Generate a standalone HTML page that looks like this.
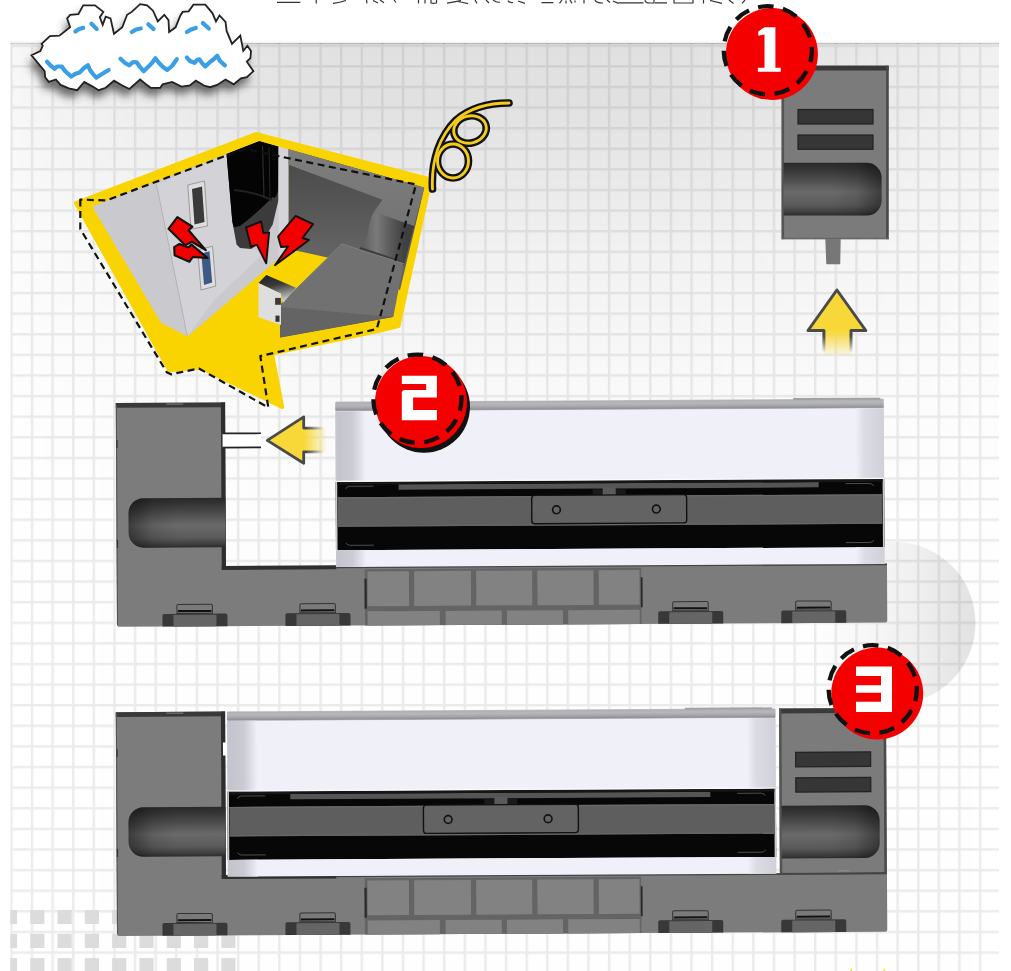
<!DOCTYPE html>
<html><head><meta charset="utf-8">
<style>
html,body{margin:0;padding:0;background:#fff;}
body{width:1011px;height:971px;overflow:hidden;font-family:"Liberation Sans",sans-serif;}
svg{display:block;position:absolute;left:0;top:0;}
</style></head>
<body>
<svg width="1011" height="971" viewBox="0 0 1011 971">
<defs>
 <pattern id="grid" patternUnits="userSpaceOnUse" x="10.2" y="44.5" width="20.61" height="20.61">
  <rect x="0" y="0" width="2.4" height="20.61" fill="#000" fill-opacity="0.075"/>
  <rect x="2.4" y="0" width="18.21" height="2.4" fill="#000" fill-opacity="0.075"/>
 </pattern>
 <linearGradient id="gV" x1="0" y1="0" x2="0" y2="1">
  <stop offset="0" stop-color="#000" stop-opacity="0.12"/>
  <stop offset="0.061" stop-color="#000" stop-opacity="0.118"/>
  <stop offset="0.148" stop-color="#000" stop-opacity="0.084"/>
  <stop offset="0.234" stop-color="#000" stop-opacity="0.05"/>
  <stop offset="0.32" stop-color="#000" stop-opacity="0.035"/>
  <stop offset="0.374" stop-color="#000" stop-opacity="0.022"/>
  <stop offset="0.492" stop-color="#000" stop-opacity="0.01"/>
  <stop offset="0.654" stop-color="#000" stop-opacity="0.004"/>
  <stop offset="1" stop-color="#000" stop-opacity="0.002"/>
 </linearGradient>
 <linearGradient id="gH" x1="0" y1="0" x2="1" y2="0">
  <stop offset="0" stop-color="#fff" stop-opacity="0.25"/>
  <stop offset="0.04" stop-color="#fff" stop-opacity="0.39"/>
  <stop offset="0.152" stop-color="#fff" stop-opacity="0.64"/>
  <stop offset="0.293" stop-color="#fff" stop-opacity="0.95"/>
  <stop offset="0.394" stop-color="#fff" stop-opacity="1"/>
  <stop offset="0.647" stop-color="#fff" stop-opacity="1"/>
  <stop offset="0.799" stop-color="#fff" stop-opacity="0.85"/>
  <stop offset="0.94" stop-color="#fff" stop-opacity="0.57"/>
  <stop offset="1" stop-color="#fff" stop-opacity="0.45"/>
 </linearGradient>
 <mask id="mH" maskUnits="userSpaceOnUse" x="0" y="0" width="1011" height="971">
  <rect x="10.2" y="42.6" width="988.8" height="928.4" fill="url(#gH)"/>
 </mask>
 <linearGradient id="sphere" x1="0" y1="0" x2="1" y2="0">
  <stop offset="0" stop-color="#000" stop-opacity="0"/>
  <stop offset="0.6" stop-color="#000" stop-opacity="0.052"/>
  <stop offset="0.9" stop-color="#000" stop-opacity="0.098"/>
  <stop offset="1" stop-color="#000" stop-opacity="0.11"/>
 </linearGradient>
 <linearGradient id="gripV" x1="0" y1="0" x2="0" y2="1">
  <stop offset="0" stop-color="#292929"/>
  <stop offset="0.1" stop-color="#323232"/>
  <stop offset="0.3" stop-color="#4a4a4a"/>
  <stop offset="0.55" stop-color="#6a6a6a"/>
  <stop offset="0.8" stop-color="#5a5a5a"/>
  <stop offset="0.93" stop-color="#404040"/>
  <stop offset="1" stop-color="#2c2c2c"/>
 </linearGradient>
 <linearGradient id="gripHL" x1="0" y1="0" x2="1" y2="0">
  <stop offset="0" stop-color="#000" stop-opacity="0.42"/>
  <stop offset="0.25" stop-color="#000" stop-opacity="0.1"/>
  <stop offset="0.5" stop-color="#000" stop-opacity="0"/>
  <stop offset="1" stop-color="#000" stop-opacity="0"/>
 </linearGradient>
 <linearGradient id="gripHR" x1="1" y1="0" x2="0" y2="0">
  <stop offset="0" stop-color="#000" stop-opacity="0.42"/>
  <stop offset="0.25" stop-color="#000" stop-opacity="0.1"/>
  <stop offset="0.5" stop-color="#000" stop-opacity="0"/>
  <stop offset="1" stop-color="#000" stop-opacity="0"/>
 </linearGradient>
 <linearGradient id="topedge" x1="0" y1="0" x2="0" y2="1">
  <stop offset="0" stop-color="#c4c4c8"/>
  <stop offset="0.12" stop-color="#b0b0b4"/>
  <stop offset="0.35" stop-color="#b6b6bc"/>
  <stop offset="0.6" stop-color="#a9a9ad"/>
  <stop offset="0.85" stop-color="#929296"/>
  <stop offset="1" stop-color="#c0c0c8"/>
 </linearGradient>
 <linearGradient id="devL" x1="0" y1="0" x2="1" y2="0">
  <stop offset="0" stop-color="#c8c8d0"/>
  <stop offset="0.08" stop-color="#c4c4cc"/>
  <stop offset="0.55" stop-color="#cbcbd3"/>
  <stop offset="0.85" stop-color="#e2e2ea"/>
  <stop offset="1" stop-color="#f0f0f8"/>
 </linearGradient>
 <linearGradient id="devR" x1="0" y1="0" x2="1" y2="0">
  <stop offset="0" stop-color="#f0f0f8"/>
  <stop offset="0.3" stop-color="#dcdce4"/>
  <stop offset="1" stop-color="#d0d0d8"/>
 </linearGradient>
 <linearGradient id="arrUp" x1="0" y1="0" x2="0" y2="1">
  <stop offset="0" stop-color="#f8d838"/>
  <stop offset="0.62" stop-color="#f8d838"/>
  <stop offset="1" stop-color="#f8d838" stop-opacity="0.05"/>
 </linearGradient>
 <linearGradient id="arrLeft" x1="1" y1="0" x2="0" y2="0">
  <stop offset="0" stop-color="#f7d23a" stop-opacity="0"/>
  <stop offset="0.45" stop-color="#f7d23a"/>
  <stop offset="1" stop-color="#f7d23a"/>
 </linearGradient>
 <linearGradient id="arrUpS" gradientUnits="userSpaceOnUse" x1="0" y1="289" x2="0" y2="356">
  <stop offset="0" stop-color="#4a4a4a"/><stop offset="0.7" stop-color="#4a4a4a"/><stop offset="0.95" stop-color="#4a4a4a" stop-opacity="0"/>
 </linearGradient>
 <linearGradient id="arrLeftF" gradientUnits="userSpaceOnUse" x1="267" y1="0" x2="328" y2="0">
  <stop offset="0" stop-color="#f8d838"/><stop offset="0.6" stop-color="#f8d838"/><stop offset="1" stop-color="#f8d838" stop-opacity="0"/>
 </linearGradient>
 <linearGradient id="arrLeftS" gradientUnits="userSpaceOnUse" x1="267" y1="0" x2="330" y2="0">
  <stop offset="0" stop-color="#4a4a4a"/><stop offset="0.62" stop-color="#4a4a4a"/><stop offset="0.9" stop-color="#4a4a4a" stop-opacity="0"/>
 </linearGradient>
 <filter id="cloudsh" x="-20%" y="-20%" width="140%" height="160%">
  <feGaussianBlur stdDeviation="4.5"/>
 </filter>
 <clipPath id="adclip"><rect x="770" y="700" width="130" height="176.5"/></clipPath>
 <clipPath id="panelclip"><rect x="10.2" y="42.6" width="988.8" height="928.4"/></clipPath>
</defs>

<!-- background panel -->
<rect x="10.2" y="40.6" width="988.8" height="2" fill="#000" fill-opacity="0.025"/>
<g clip-path="url(#panelclip)">
 <rect x="10.2" y="43" width="988.8" height="928" fill="#ffffff"/>
 <rect x="10.2" y="42.6" width="988.8" height="928.4" fill="url(#gV)" mask="url(#mH)"/>
 <rect x="10.2" y="43" width="988.8" height="928" fill="url(#grid)"/>
 <rect x="10.2" y="42.6" width="988.8" height="1.5" fill="#000" fill-opacity="0.16"/>
</g>

<!-- top text remnants -->
<path d="M277,2.3 H300.3 M316.2,0 V3.4 M333,3.3 Q340,2.5 346,0.5 M366.5,0 L367,3.4 M373,0.5 L378,3 M380,0 L384,2.8 M394,0 L396,2.5 M418.5,0 V3.4 M425,0 V3.4 M431,0 V3 Q433,3.6 436.5,3 V0 M447,3.2 Q455,2 461,0.5 M458,1.5 Q463,2.5 468,3.6 M475,0 L477,3.4 M486,0 L489,3 M493,0 Q497,3 500,2 M508,0.5 Q509,3 513,2.5 M518,1 L525,3.4 M541.5,2.6 H553.4 M559.5,3.3 L562,0 M566,0.5 V3.4 M570,0 L572,3.4 M575,0.5 V2.5 M584,0 V3.4 M595,0 Q596,3 603,3 M607,0 L610,2.5 M613,1 L618.5,3.4 M618.6,2.8 H643.5 M645,0 Q645,3 650,3 H654 V0 M655,2.8 H667 M674,0 V3 H693 V0 M703.5,0 V3.4 M710,0.5 L722,3.4 M729,0 L733.5,3.4 M745,0 L742,3.4" fill="none" stroke="#333" stroke-width="1.2"/>

<!-- bottom-left squares -->
<g fill="#dcdcdc" clip-path="url(#panelclip)">
 <g id="sqrow">
  <rect x="2.9" y="909.9" width="14.2" height="14.2"/><rect x="30.2" y="909.9" width="14.2" height="14.2"/><rect x="57.5" y="909.9" width="14.2" height="14.2"/><rect x="84.8" y="909.9" width="14.2" height="14.2"/><rect x="112.1" y="909.9" width="14.2" height="14.2"/><rect x="139.4" y="909.9" width="14.2" height="14.2"/><rect x="166.7" y="909.9" width="14.2" height="14.2"/><rect x="194" y="909.9" width="14.2" height="14.2"/><rect x="221.3" y="909.9" width="14.2" height="14.2"/>
 </g>
 <use href="#sqrow" y="23.9"/>
 <use href="#sqrow" y="48.2"/>
</g>
<!-- sparkles -->
<path d="M850,971 L851.2,968 L852.4,971 Z M883,971 L884.2,968 L885.4,971 Z" fill="#f3d400" fill-opacity="0.8"/>

<!-- semicircle shade -->
<circle cx="894.5" cy="623" r="81" fill="url(#sphere)"/>

<!-- ===== assembly defs ===== -->
<defs>
 <g id="foot">
  <path d="M0,22 V11.2 Q0,9.4 1.8,9.4 H63.2 Q65,9.4 65,11.2 V22 Z" fill="#383838"/>
  <rect x="11" y="10.4" width="43" height="11.6" fill="#656565"/>
  <path d="M14.5,8.9 V1.5 Q14.5,0 16,0 H48.5 Q50,0 50,1.5 V8.9 Z" fill="#7a7a7a" stroke="#333" stroke-width="1"/>
  <rect x="15.5" y="5.6" width="33.5" height="2" fill="#111"/>
 </g>
 <g id="asm">
  <path d="M117,403.1 H226.3 V568 H887.3 V624.8 Q887.3,626.8 885.3,626.8 H119 Q117,626.8 117,624.8 Z" fill="#7c7c7c"/>
  <rect x="117" y="403.1" width="109.3" height="4.7" fill="#393939"/>
  <rect x="167.5" y="403.6" width="17" height="1.6" fill="#666"/>
  <rect x="222.1" y="403.1" width="4.2" height="167.4" fill="#2e2e2e"/>
  <rect x="222.1" y="566.5" width="114.5" height="4" fill="#2e2e2e"/>
  <rect x="336" y="567.6" width="551.3" height="1.8" fill="#454545"/>
  <rect x="117" y="405" width="1.1" height="220" fill="#555"/>
  <rect x="117.3" y="440" width="1.3" height="8" fill="#333"/>
  <rect x="117.3" y="540" width="1.3" height="8" fill="#333"/>
  <path d="M226,498.3 H144.1 A15,15 0 0 0 129.1,513.3 V532.8 A15,15 0 0 0 144.1,547.8 H226 Z" fill="url(#gripV)"/>
  <path d="M226,498.3 H144.1 A15,15 0 0 0 129.1,513.3 V532.8 A15,15 0 0 0 144.1,547.8 H226 Z" fill="url(#gripHL)"/>
  <!-- bricks -->
  <rect x="365" y="570.5" width="276.5" height="56.3" fill="#646464"/>
  <g fill="#828282">
   <rect x="367.8" y="572.8" width="41.4" height="34.7"/>
   <rect x="414.4" y="572.8" width="56.8" height="34.7"/>
   <rect x="476.4" y="572.8" width="56" height="34.7"/>
   <rect x="537.6" y="572.8" width="56.2" height="34.7"/>
   <rect x="599" y="572.8" width="40.8" height="34.7"/>
   <rect x="367.8" y="612.7" width="72.1" height="14.1"/>
   <rect x="445.7" y="612.7" width="56.1" height="14.1"/>
   <rect x="507" y="612.7" width="56.1" height="14.1"/>
   <rect x="568.3" y="612.7" width="71.5" height="14.1"/>
  </g>
  <rect x="364.7" y="580" width="2.2" height="30" fill="#2a2a2a"/>
  <rect x="641" y="580" width="1.8" height="30" fill="#2a2a2a"/>
  <use href="#foot" x="162.5" y="604.8"/>
  <use href="#foot" x="285.5" y="604.8"/>
  <use href="#foot" x="658.3" y="604.8"/>
  <use href="#foot" x="781.3" y="604.8"/>
 </g>
 <g id="dev">
  <rect x="0" y="-0.3" width="548.6" height="10" rx="1.5" fill="url(#topedge)"/>
  <rect x="458" y="-1.3" width="87" height="2" fill="#a2a2a4"/>
  <rect x="0" y="9.4" width="548.6" height="70.6" fill="#f0f0f8"/>
  <rect x="0" y="9.4" width="30" height="70.6" fill="url(#devL)"/>
  <rect x="520" y="9.4" width="28.6" height="70.6" fill="url(#devR)"/>
  <rect x="0" y="80" width="548.6" height="68.3" fill="#070707"/>
  <rect x="0" y="80" width="1.6" height="68.3" fill="#c8c8d0"/>
  <rect x="547" y="80" width="1.6" height="68.3" fill="#c8c8d0"/>
  <rect x="63" y="82.8" width="420" height="5.3" fill="#555"/>
  <rect x="1.6" y="80" width="545.4" height="2.8" fill="#161616"/>
  <rect x="0" y="78.8" width="548.6" height="1.2" fill="#fbfbfe"/>
  <rect x="2" y="95.3" width="544.5" height="29.6" fill="#5e5e5e"/>
  <rect x="2" y="95.3" width="544.5" height="1.2" fill="#6a6a6a"/>
  <rect x="2" y="123.6" width="544.5" height="1.3" fill="#666"/>
  <path d="M10,87 Q11,84.5 14,84.5 H38 M10,141 Q11,143.5 14,143.5 H38 M538,87 Q537,84.5 534,84.5 H510 M538,141 Q537,143.5 534,143.5 H510" fill="none" stroke="#555" stroke-width="0.9"/>
  <rect x="257" y="89" width="33" height="6.5" fill="#1a1a1a"/>
  <rect x="267" y="86.8" width="13" height="8.5" fill="#5a5a5a"/>
  <rect x="196" y="94.6" width="154.9" height="28.3" rx="3" fill="#636363" stroke="#111" stroke-width="1.4"/>
  <circle cx="220.7" cy="109.1" r="3.9" fill="none" stroke="#111" stroke-width="1.6"/>
  <circle cx="320.6" cy="108.9" r="3.9" fill="none" stroke="#111" stroke-width="1.6"/>
  <rect x="0" y="148.3" width="548.6" height="16.7" fill="#f0f0f8"/>
  <rect x="0" y="148.3" width="30" height="16.7" fill="url(#devL)"/>
  <rect x="520" y="148.3" width="28.6" height="16.7" fill="url(#devR)"/>
 </g>
 <g id="adapter">
  <rect x="0" y="0" width="107" height="173.5" fill="#7b7b7b"/>
  <rect x="0" y="0" width="107" height="4.8" fill="#3a3a3a"/>
  <rect x="0" y="0" width="2.5" height="173.5" fill="#555"/>
  <rect x="104.5" y="0" width="2.5" height="173.5" fill="#4a4a4a"/>
  <rect x="16.4" y="43.8" width="75" height="14.5" fill="#363636" stroke="#222" stroke-width="1.2"/>
  <rect x="16.4" y="69.3" width="75" height="14.3" fill="#363636" stroke="#222" stroke-width="1.2"/>
  <rect x="0" y="172" width="107" height="1.5" fill="#666"/>
  <path d="M2,97.1 H85 A15,15 0 0 1 100,112.1 V134.9 A15,15 0 0 1 85,149.9 H2 Z" fill="url(#gripV)"/>
  <path d="M2,97.1 H85 A15,15 0 0 1 100,112.1 V134.9 A15,15 0 0 1 85,149.9 H2 Z" fill="url(#gripHR)"/>
 </g>
</defs>

<!-- middle assembly -->
<g transform="rotate(-0.3125 116.9 626.8)">
 <use href="#asm"/>
 <use href="#dev" x="336.4" y="403.1"/>
 <rect x="223.6" y="434" width="38.4" height="14" fill="#fff"/>
 <rect x="223.6" y="433.2" width="38.4" height="1.7" fill="#222"/>
 <rect x="223.6" y="447.3" width="38.4" height="1.7" fill="#222"/>
</g>

<!-- bottom assembly -->
<g transform="rotate(-0.3125 116.9 935.9)">
 <use href="#asm" y="309.1"/>
 <use href="#dev" x="228.1" y="712.2"/>
 <rect x="224" y="743" width="4" height="13" fill="#fff"/>
 <g clip-path="url(#adclip)"><use href="#adapter" x="780.2" y="712.2"/></g>
 <rect x="780.2" y="876.3" width="107" height="1.8" fill="#454545"/>
 <rect x="838" y="874" width="12" height="1.2" fill="#8a8a8a"/>
</g>

<!-- top adapter -->
<use href="#adapter" x="781.6" y="65.7"/>
<path d="M825.3,239 H840.7 L840.2,264.3 H826.3 Z" fill="#777"/>


<!-- cloud -->
<defs>
 <path id="cloudp" d="M31.5,55.2 L40.4,51 L42.8,45.7 L41.6,43.9 L49.9,36.2 L59.4,35.6 L70.1,27.3 L67.1,18.4 L70.1,14.8 L78.4,14.2 L83.2,5.3 L95,5.3 L103.3,11.9 L99.8,17.2 L102.7,24.9 L105.7,16.6 L110.5,18.4 L114,33.8 L122.3,27.3 L127.1,14.8 L131.8,11.9 L140.1,4.2 L147.1,5.3 L153,10.7 L157.8,21.4 L164.3,14.8 L168.5,20.2 L169.1,32 L175.6,27.3 L180.4,15.4 L182.7,11.9 L188.7,11.3 L193.4,4.7 L205.3,4.7 L212.4,13.1 L216,21.4 L219.5,15.4 L225.5,22 L226.6,30.9 L232,43.9 L240.3,35.6 L243.3,51 L247.4,45.7 L251,51 L250.4,58.2 L246.8,61.7 L253.4,71.2 L246.8,77.2 L240.9,78.3 L233.8,84.3 L225.5,79.5 L217.2,84.9 L210,87.2 L204.1,85.5 L195.8,80.7 L189.9,85.5 L181.5,86.6 L172,81.9 L162.6,84.3 L160.2,87.8 L150.7,87.8 L145.9,84.3 L140.1,79.5 L129.4,89 L122.3,85.5 L114,80.7 L105.7,87.8 L98.6,90.2 L92.7,86.6 L84.3,81.9 L77.2,90.2 L68.9,88.4 L60.6,84.9 L55.9,79.5 L48.7,81.9 L45.2,77.2 L44.6,71.2 Z"/>
</defs>
<use href="#cloudp" transform="translate(-3 8)" fill="#333" fill-opacity="0.7" filter="url(#cloudsh)"/>
<use href="#cloudp" fill="#fff" stroke="#222" stroke-width="1.8" stroke-linejoin="miter"/>
<g fill="none" stroke="#3a9fe4" stroke-width="4.2" stroke-linecap="round" stroke-linejoin="round">
 <path d="M75.4,31.5 L79,29 L83.2,27.9"/><path d="M91.5,23.7 L96.8,29.1"/>
 <path d="M131.8,32 L136,29.5 L140.7,28.5"/><path d="M148.3,24.3 L153.6,29.1"/>
 <path d="M186.9,32 L191,29.5 L195.8,27.9"/><path d="M202.9,23.1 L208.8,28.5"/>
 <path d="M47,61.7 L50,65 L54.7,68.8 L57,66.5 L61.8,66.5 L65,71 L71.3,76.6 L75,74 L79.6,72.4 L84,68 L87.9,65.3 L90,70 L93,74 L96.2,77.7 L102,74 L108.7,70"/>
 <path d="M120.5,58.8 L125,63 L129.4,65.3 L133,62 L136.6,62.3 L140,67 L143.6,71.2 L149,66 L152,63 L155.4,58.2 L159,63 L163,67 L167.3,70 L172,66 L176.8,59.3"/>
 <path d="M186.9,57.6 L190,61 L194.6,62.9 L197,60 L199.3,59.3 L202,63 L205.3,66.5 L210,62 L214,59 L217.2,55.8 L220,61 L224.9,65.3"/>
</g>

<!-- ===== bubble ===== -->
<defs>
 <clipPath id="photoclip">
  <path d="M92,206.5 L259.3,141 L424.5,187.5 L395.3,317.1 L280,337.7 L187.4,336.5 L161,323 Z"/>
 </clipPath>
 <linearGradient id="recess" x1="0" y1="0" x2="1" y2="0">
  <stop offset="0" stop-color="#5a5a5a"/><stop offset="0.3" stop-color="#7a7a7a"/><stop offset="0.55" stop-color="#5c5c5c"/><stop offset="0.8" stop-color="#424242"/><stop offset="1" stop-color="#3a3a3a"/>
 </linearGradient>
 <linearGradient id="usbtop" x1="0" y1="0" x2="0.3" y2="1">
  <stop offset="0" stop-color="#1e1e1e"/><stop offset="0.45" stop-color="#3a3a3a"/><stop offset="1" stop-color="#c8c8c8"/>
 </linearGradient>
 <linearGradient id="wallg" gradientUnits="userSpaceOnUse" x1="0" y1="165" x2="0" y2="250">
  <stop offset="0" stop-color="#4c4c4c"/><stop offset="0.45" stop-color="#555"/><stop offset="1" stop-color="#636363"/>
 </linearGradient>
 <linearGradient id="ceil" x1="0" y1="0" x2="0" y2="1">
  <stop offset="0" stop-color="#7e7e7e"/><stop offset="1" stop-color="#747474"/>
 </linearGradient>
</defs>
<path d="M76,203 L255.8,134 L430.5,179.5 L398.5,326 L380,330.5 L272,353.5 L282.2,407 L200.4,367.5 L169.3,370.2 Z" fill="#fad400" stroke="#fad400" stroke-width="4" stroke-linejoin="round"/>
<g clip-path="url(#photoclip)">
 <!-- left wall -->
 <path d="M92,206.5 L259.3,141 L288.6,149 L288.6,250 L283,255 L187.4,336.5 L161,323 Z" fill="#cacace"/>
 <!-- panel -->
 <path d="M156.5,184.5 L226.5,155 L232.3,221.5 L236.6,244.6 L251,249 L265,252 L214,300 L187.4,336.5 L178,290 Z" fill="#d3d3d7"/>
 <path d="M156.5,184.5 L178,290 L187.4,336.5" fill="none" stroke="#b2b2b8" stroke-width="1"/>
 <!-- black opening -->
 <path d="M226.5,153.8 L259.3,141 L278.5,146.5 L278.5,199.9 L272.7,224.4 L262.6,241.7 L251,249 L240,248 L236.6,244.6 L232.3,221.5 Z" fill="#3b3b3b"/>
 <path d="M226.5,153.8 L259.3,141 L278.5,146.5 L278,190 Q276,200 272.7,197 Q255,215 240,226 L233.8,227.3 L232.3,221.5 Z" fill="#040404"/>
 <path d="M234,190 Q255,192 272,200" stroke="#222" stroke-width="2" fill="none"/>
 <path d="M262.5,146 L264,197" stroke="#2c2c2c" stroke-width="1.2"/>
 <path d="M269,147 L270,200" stroke="#262626" stroke-width="1"/>
 <!-- light strip -->
 <path d="M278.5,146.5 L288.6,149 L288.6,250 L283,255 L278.5,256 Z" fill="#d5d5d9"/>
 <!-- right wall -->
 <path d="M288.6,148.2 L424.5,187.4 L400,290 L345,262 L327.4,257.4 L288.6,249 Z" fill="url(#wallg)"/>
 <path d="M288.6,148.2 L424.5,187.4 L414,226 L373.8,212 L382.5,199.8 L288.6,164.7 Z" fill="url(#ceil)"/>
 <path d="M373.8,212 L414,226 L405,262 L360.6,247 Q366,242 368,232 Q370,218 373.8,212 Z" fill="url(#recess)"/>
 <path d="M360.6,247 L405,262 L403.6,266 L358,250.5 Z" fill="#3e3e3e"/>
 <!-- block -->
 <path d="M280,304.7 L341.8,244 L403.6,263.6 L393.3,317.1 L280,337.7 Z" fill="#717171"/>
 <path d="M280,304.7 L341.8,244 L403.6,263.6" fill="none" stroke="#808080" stroke-width="1"/>
 <path d="M280,307 L393.3,317.1 L280,337.7 Z" fill="#646464"/>
 <!-- usb dongle -->
 <path d="M258.5,283 L266.3,275.1 L296,287.8 L283,303 L281,293.7 Z" fill="url(#usbtop)"/>
 <path d="M258.5,283 L281,293.7 L281,325 L258.5,317.2 Z" fill="#dedede"/>
 <rect x="275.1" y="297.9" width="5.8" height="6.9" fill="#3a3a3a"/>
 <rect x="275.5" y="315.6" width="4" height="6.2" fill="#333"/>
 <!-- usb ports -->
 <path d="M187.8,185 L204.5,181 L207.5,226 L191,229 Z" fill="#dedede" stroke="#8a8a8a" stroke-width="0.8"/>
 <path d="M192,189 L202,186.5 L204.5,222 L194.5,224.5 Z" fill="#3a3a3a"/>
 <path d="M197.7,250 L212.5,246.2 L215.8,286 L201,290 Z" fill="#dedede" stroke="#8a8a8a" stroke-width="0.8"/>
 <path d="M201.3,253.5 L209.5,251.2 L212.2,282.5 L204,285 Z" fill="#3d5a86"/>
</g>
<!-- lightning bolts -->
<g fill="#f20000" stroke="#111" stroke-width="1.9" stroke-linejoin="round">
 <path d="M170.5,229.3 L178.4,218.8 L191.8,227.3 L188.4,230.6 L203.8,248.3 L191.4,240.8 L185.4,244 Z" transform="translate(187 233) scale(1.12) translate(-187 -233)"/>
 <path d="M175.6,247.6 L180.4,244.8 L188.4,248 L191.4,245.4 L206,257.6 L192.6,256.6 L189.4,261 L176,255 Z" transform="translate(190 253) scale(1.1) translate(-190 -253)"/>
 <path d="M246,227.5 L261.2,221.5 L263.3,233.1 L269.1,232.4 L266.2,263.4 L256.8,244.6 L251,246.8 Z"/>
 <path d="M278.1,236.5 L295.6,215.9 L313.1,224.2 L302.5,238 L309,240 L275,265.3 L288,246.5 L281,247 Z"/>
</g>
<!-- dashed outline -->
<path d="M80.3,199.5 L80.3,229 L166.7,372.2 L171,374.3 L198.9,368.5 L268.3,407.5 L260.3,356.1 L376.8,329 L416,184.5 L280,156.5 L247,149 L229,154.5 L106,200.5 Z" fill="none" stroke="#111" stroke-width="2.2" stroke-dasharray="7 4.5" stroke-linejoin="round"/>

<!-- coil -->
<g fill="none" stroke-linecap="round">
 <g stroke="#111" stroke-width="7.6">
  <path d="M432.5,189 C431,160 440,136 456,120 C472,106 492,103 509,103"/>
  <ellipse cx="470" cy="129.5" rx="16.5" ry="13.5" transform="rotate(-15 470 129.5)"/>
  <ellipse cx="453" cy="161" rx="15.5" ry="17"/>
 </g>
 <g stroke="#f5cc1a" stroke-width="2.9">
  <ellipse cx="453" cy="161" rx="15.5" ry="17"/>
  <ellipse cx="470" cy="129.5" rx="16.5" ry="13.5" transform="rotate(-15 470 129.5)"/>
  <path d="M432.5,189 C431,160 440,136 456,120 C472,106 492,103 509,103"/>
 </g>
</g>

<!-- arrows -->
<path d="M836.9,290 L865.8,330.5 L851,330.5 L851,356 L823.9,356 L823.9,330.5 L808,330.5 Z" fill="url(#arrUp)"/>
<path d="M823.9,356 L823.9,330.5 L808,330.5 L836.9,290 L865.8,330.5 L851,330.5 L851,356" fill="none" stroke="url(#arrUpS)" stroke-width="3" stroke-linejoin="round"/>
<path d="M267.3,440.4 L303.7,416.8 L303.7,428.1 L326,428.1 L326,451.9 L303.7,451.9 L303.7,463.3 Z" fill="url(#arrLeftF)"/>
<path d="M330,428.1 L303.7,428.1 L303.7,416.8 L267.3,440.4 L303.7,463.3 L303.7,451.9 L330,451.9" fill="none" stroke="url(#arrLeftS)" stroke-width="2.8" stroke-linejoin="round"/>

<!-- badge 1 -->
<circle cx="771.9" cy="53.9" r="46" fill="#f50000"/>
<circle cx="767.8" cy="50.3" r="44.1" fill="none" stroke="#111" stroke-width="4.3" pathLength="1100" stroke-dasharray="62 38" stroke-dashoffset="14"/>
<path d="M764.5,27.2 L775.4,27.2 L775.4,67.8 L780.8,67.8 L780.8,71.8 L757.9,71.8 L757.9,67.8 L764.5,67.8 L764.5,34.5 L758.3,35.8 L758.3,31.6 Z" fill="#fff"/>

<!-- badge 2 -->
<circle cx="424" cy="406.8" r="46" fill="#111"/>
<circle cx="421" cy="402" r="46" fill="#f50000"/>
<circle cx="417.4" cy="398.7" r="44.1" fill="none" stroke="#111" stroke-width="4.3" pathLength="1100" stroke-dasharray="62 38" stroke-dashoffset="14"/>
<path d="M401.8,375.8 H436.9 V397.6 H413.1 V410 H436.9 V420.2 H401.8 V393 Q401.8,390 405,390 H426.2 V384 H401.8 Z" fill="#fff"/>

<!-- badge 3 -->
<circle cx="877.2" cy="693.5" r="46" fill="#f50000"/>
<circle cx="872.7" cy="689.3" r="44.1" fill="none" stroke="#111" stroke-width="4.3" pathLength="1100" stroke-dasharray="62 38" stroke-dashoffset="14"/>
<path d="M856,666.6 H892 V711.9 H856 V701.7 H881 V692.7 H856 V685.3 H881 V676 H856 Z" fill="#fff"/>



</svg>
</body></html>
